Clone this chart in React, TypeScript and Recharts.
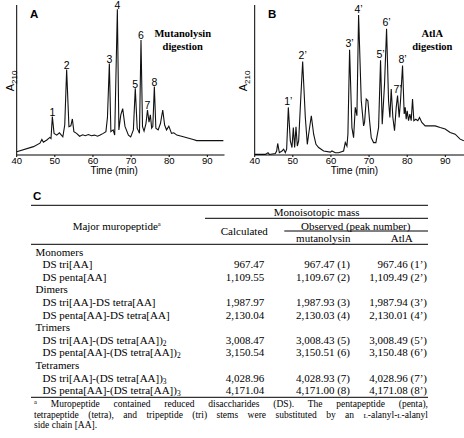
import React from 'react';
import { LineChart, Line, XAxis, YAxis, ReferenceDot } from 'recharts';

// ---------- Panel A: mutanolysin digestion chromatogram ----------
const timeA = [
  40.0, 44.4, 46.1, 46.6, 47.0, 47.9, 48.7, 49.0, 49.35, 49.8, 50.5, 51.2, 52.1, 52.6, 53.1, 53.7, 54.2, 54.6,
  55.0, 55.7, 56.5, 57.3, 58.0, 58.8, 59.6, 60.4, 61.2, 61.9, 62.7, 63.4, 63.8, 64.3, 64.7, 65.3, 65.7, 66.4,
  66.8, 67.3, 67.8, 68.4, 69.3, 69.9, 70.6, 71.1, 71.6, 72.2, 72.6, 73.0, 73.4, 73.9, 74.3, 74.7, 75.05, 75.4,
  75.7, 76.1, 76.5, 77.1, 77.7, 78.3, 78.8, 79.3, 79.9, 80.6, 81.2, 82.0, 83.7, 86.3, 87.2, 89.8, 94.2,
];
const signalA = [
  0.11, 0.29, 0.41, 0.54, 0.44, 0.52, 0.61, 0.57, 1.33, 0.75, 0.69, 0.77, 0.63, 1.04, 2.96, 0.98, 1.01, 1.25,
  0.81, 0.75, 0.65, 0.7, 0.67, 0.71, 0.67, 0.69, 0.65, 0.69, 0.75, 0.81, 1.3, 3.17, 0.81, 0.87, 0.69, 5.05,
  0.87, 1.39, 1.61, 0.99, 0.69, 0.63, 0.87, 2.31, 0.93, 0.75, 3.99, 0.98, 0.83, 1.09, 1.56, 1.14, 1.39, 0.93,
  0.99, 2.37, 0.93, 0.87, 1.09, 1.56, 1.04, 0.87, 1.0, 0.75, 0.77, 0.69, 0.63, 0.54, 0.5, 0.5, 0.5,
];
const peakNamesA = ['1', '2', '3', '4', '5', '6', '7', '8'];
const peakTimesA = [49.35, 53.1, 64.3, 66.4, 71.1, 72.6, 74.3, 76.1];

// ---------- Panel B: AtlA digestion chromatogram ----------
const timeB = [
  40.0, 42.79, 43.49, 43.84, 45.41, 45.76, 46.03, 46.46, 47.16, 47.6, 48.03, 48.38, 48.82, 49.34, 49.78, 50.13,
  50.48, 50.83, 51.18, 51.53, 52.05, 52.58, 53.28, 53.8, 54.15, 54.85, 55.46, 56.07, 56.77, 58.08, 59.83, 60.26,
  61.14, 62.01, 63.32, 63.76, 64.19, 64.45, 64.89, 65.5, 65.94, 66.38, 66.81, 67.25, 67.95, 68.56, 68.82, 69.26,
  69.69, 70.13, 70.57, 71.18, 71.79, 72.49, 73.01, 73.45, 73.71, 74.06, 74.59, 75.11, 75.46, 75.81, 76.24, 76.68,
  77.12, 77.47, 77.9, 78.25, 78.78, 79.21, 79.48, 79.74, 80.0, 80.35, 80.7, 81.05, 81.4, 81.75, 82.27, 82.79,
  83.23, 83.84, 84.72, 86.03, 87.34, 88.65, 89.96, 91.27, 92.58, 93.89, 94.85,
];
const signalB = [
  0.02, 0.02, 0.08, 0.02, 0.05, 0.14, 0.4, 0.08, 0.14, 0.2, 0.08, 0.2, 1.65, 0.49, 0.26, 0.95,
  0.26, 0.98, 0.31, 0.49, 1.88, 3.24, 1.3, 0.37, 0.72, 1.36, 0.72, 0.37, 0.26, 0.14, 0.1, 0.14,
  0.08, 0.08, 0.14, 0.43, 0.31, 0.72, 3.65, 0.95, 0.6, 1.65, 1.36, 4.85, 1.88, 1.01, 1.13, 1.94,
  1.88, 1.19, 0.6, 0.43, 0.43, 0.95, 3.28, 1.07, 1.65, 2.47, 4.38, 1.88, 1.3, 2.29, 1.3, 0.84,
  1.65, 2.06, 1.3, 1.88, 3.1, 1.42, 1.65, 1.24, 1.53, 1.19, 1.42, 1.19, 1.94, 1.19, 1.24, 1.19,
  1.3, 1.13, 1.01, 1.01, 1.01, 0.95, 0.9, 0.78, 0.72, 0.55, 0.49,
];
const peakNamesB = ['1’', '2’', '3’', '4’', '5’', '6’', '7’', '8’'];
const peakTimesB = [48.82, 52.58, 64.89, 67.25, 73.01, 74.59, 77.47, 78.78];

const timeTicks = [40, 50, 60, 70, 80, 90];
const absTicksB = [0, 1, 2, 3, 4, 5];

// ---------- Panel C: table ----------
const groupNames = ['Monomers', 'Dimers', 'Trimers', 'Tetramers'];
const muropeptides = [
  'DS tri[AA]', 'DS penta[AA]',
  'DS tri[AA]-DS tetra[AA]', 'DS penta[AA]-DS tetra[AA]',
  'DS tri[AA]-(DS tetra[AA])', 'DS penta[AA]-(DS tetra[AA])',
  'DS tri[AA]-(DS tetra[AA])', 'DS penta[AA]-(DS tetra[AA])',
];
const muropeptideSubs = ['', '', '', '', '2', '2', '3', '3'];
const calculatedMass = ['967.47', '1,109.55', '1,987.97', '2,130.04', '3,008.47', '3,150.54', '4,028.96', '4,171.04'];
const observedMutanolysin = ['967.47 (1)', '1,109.67 (2)', '1,987.93 (3)', '2,130.03 (4)', '3,008.43 (5)', '3,150.51 (6)', '4,028.93 (7)', '4,171.00 (8)'];
const observedAtlA = ['967.46 (1’)', '1,109.49 (2’)', '1,987.94 (3’)', '2,130.01 (4’)', '3,008.49 (5’)', '3,150.48 (6’)', '4,028.96 (7’)', '4,171.08 (8’)'];

const SANS = '"Liberation Sans", Arial, sans-serif';
const SERIF = '"Liberation Serif", "Times New Roman", serif';

const dataA = timeA.map((t, i) => ({ t, v: signalA[i] }));
const dataB = timeB.map((t, i) => ({ t, v: signalB[i] }));

const valueAt = (data: { t: number; v: number }[], t: number) => {
  const p = data.find((d) => d.t === t);
  return p ? p.v : 0;
};

const absLabel = (shiftX: number) => (props: any) => {
  const vb = props.viewBox || { x: 0, y: 0, width: 0, height: 0 };
  const cx = vb.x + shiftX;
  const cy = vb.y + vb.height / 2 + 1;
  return (
    <text x={cx} y={cy} transform={`rotate(-90 ${cx} ${cy})`} textAnchor="middle" fontFamily={SANS} fontSize={11} fill="#000">
      A<tspan fontSize={8} dy={3}>210</tspan>
    </text>
  );
};

const timeLabel = (dx: number) => (props: any) => {
  const vb = props.viewBox || { x: 0, y: 0, width: 0, height: 0 };
  return (
    <text x={vb.x + vb.width / 2 + dx} y={vb.y + 18.5} textAnchor="middle" fontFamily={SANS} fontSize={10} fill="#000">
      Time (min)
    </text>
  );
};

const axisLine = { stroke: '#000', strokeWidth: 1 };
const tickStyle = { fontSize: 9.5, fill: '#000', fontFamily: SANS };

function Chromatogram(props: {
  data: { t: number; v: number }[];
  names: string[];
  times: number[];
  left: number;
  yWidth: number;
  rightMargin: number;
  xMax: number;
  yTicks?: number[];
  absShift: number;
  timeDx: number;
  labelOffset: number;
}) {
  const { data, names, times } = props;
  return (
    <div style={{ position: 'absolute', left: props.left, top: 0 }}>
      <LineChart width={232} height={178} data={data} margin={{ top: 5, right: props.rightMargin, left: 0, bottom: 0 }}>
        <XAxis
          dataKey="t"
          type="number"
          domain={[40, props.xMax]}
          ticks={timeTicks}
          allowDataOverflow
          height={23}
          tickSize={2}
          tickMargin={0}
          axisLine={axisLine}
          tickLine={{ stroke: '#000' }}
          tick={tickStyle}
          label={timeLabel(props.timeDx)}
        />
        <YAxis
          type="number"
          domain={[0, 5.2]}
          allowDataOverflow
          width={props.yWidth}
          ticks={props.yTicks || []}
          tick={false}
          tickSize={3}
          tickLine={props.yTicks ? { stroke: '#000' } : false}
          axisLine={axisLine}
          label={absLabel(props.absShift)}
        />
        <Line type="linear" dataKey="v" stroke="#111" strokeWidth={1.1} dot={false} isAnimationActive={false} />
        {names.map((n, i) => (
          <ReferenceDot
            key={n}
            x={times[i]}
            y={valueAt(data, times[i])}
            r={0}
            fill="none"
            stroke="none"
            label={{ value: n, position: 'top', offset: props.labelOffset, fontSize: 10.5, fill: '#000', fontFamily: SANS }}
          />
        ))}
      </LineChart>
    </div>
  );
}

const ROW0 = 251.7;
const ROW_STEP = 12.6;
const rowBaseline = (i: number) => ROW0 + i * ROW_STEP + 3.8;

const footLine: React.CSSProperties = {
  height: 10.5,
  lineHeight: '10.5px',
  whiteSpace: 'nowrap',
};

export default function App() {
  const rows: React.ReactNode[] = [];
  groupNames.forEach((g, gi) => {
    rows.push(
      <text key={'g' + gi} x={35.5} y={rowBaseline(gi * 3)}>{g}</text>
    );
    [0, 1].forEach((k) => {
      const idx = gi * 2 + k;
      const y = rowBaseline(gi * 3 + 1 + k);
      rows.push(
        <g key={'r' + idx}>
          <text x={42.5} y={y}>
            {muropeptides[idx]}
            {muropeptideSubs[idx] ? <tspan fontSize={7.5} dy={2}>{muropeptideSubs[idx]}</tspan> : null}
          </text>
          <text x={264.3} y={y} textAnchor="end">{calculatedMass[idx]}</text>
          <text x={350} y={y} textAnchor="end">{observedMutanolysin[idx]}</text>
          <text x={427} y={y} textAnchor="end">{observedAtlA[idx]}</text>
        </g>
      );
    });
  });

  return (
    <div style={{ position: 'absolute', left: 0, top: 0, width: 464, height: 438, background: '#fff' }}>
      <Chromatogram
        data={dataA}
        names={peakNamesA}
        times={peakTimesA}
        left={0}
        yWidth={16.7}
        rightMargin={7.5}
        xMax={94.5}
        absShift={13.5}
        timeDx={-6.5}
        labelOffset={0.8}
      />
      <Chromatogram
        data={dataB}
        names={peakNamesB}
        times={peakTimesB}
        left={232}
        yWidth={22.7}
        rightMargin={0}
        xMax={94.9}
        yTicks={absTicksB}
        absShift={14.5}
        timeDx={-5}
        labelOffset={2.5}
      />
      <svg width={464} height={438} style={{ position: 'absolute', left: 0, top: 0, pointerEvents: 'none' }}>
        <text x={30} y={18.3} fontFamily={SANS} fontWeight="bold" fontSize={11.5} fill="#000">A</text>
        <text x={268} y={18.3} fontFamily={SANS} fontWeight="bold" fontSize={11.5} fill="#000">B</text>
        <g fontFamily={SERIF} fontWeight="bold" fontSize={10.5} fill="#000" textAnchor="middle">
          <text x={182.7} y={37}>Mutanolysin</text>
          <text x={182.7} y={49.5}>digestion</text>
          <text x={432.3} y={37}>AtlA</text>
          <text x={432.3} y={49.5}>digestion</text>
        </g>
        <text x={33} y={199.5} fontFamily={SANS} fontWeight="bold" fontSize={11.5} fill="#000">C</text>
        <g stroke="#000" strokeWidth={1}>
          <line x1={31} x2={428} y1={205.3} y2={205.3} />
          <line x1={205} x2={428} y1={218.3} y2={218.3} />
          <line x1={284.3} x2={428} y1={231} y2={231} />
          <line x1={31} x2={428} y1={244.3} y2={244.3} />
          <line x1={31} x2={428} y1={397.3} y2={397.3} />
        </g>
        <g fontFamily={SERIF} fontSize={11} fill="#000">
          <text x={316.7} y={215.5} textAnchor="middle">Monoisotopic mass</text>
          <text x={116.7} y={229.5} textAnchor="middle">
            Major muropeptide<tspan fontSize={6.5} dy={-4}>a</tspan>
          </text>
          <text x={244.3} y={234.5} textAnchor="middle">Calculated</text>
          <text x={355.7} y={229.5} textAnchor="middle">Observed (peak number)</text>
          <text x={323.3} y={241.5} textAnchor="middle">mutanolysin</text>
          <text x={401.7} y={241.5} textAnchor="middle">AtlA</text>
          {rows}
        </g>
      </svg>
      <div
        style={{
          position: 'absolute',
          left: 34,
          top: 399,
          width: 394,
          fontFamily: SERIF,
          fontSize: 9.5,
          color: '#000',
        }}
      >
        <div style={{ ...footLine, textAlign: 'justify', textAlignLast: 'justify' }}>
          <span style={{ fontSize: 6.5, position: 'relative', top: -3 }}>a</span> Muropeptide contained reduced disaccharides (DS). The pentapeptide (penta),
        </div>
        <div style={{ ...footLine, textAlign: 'justify', textAlignLast: 'justify' }}>
          tetrapeptide (tetra), and tripeptide (tri) stems were substituted by an <span style={{ fontSize: 7 }}>L</span>-alanyl-<span style={{ fontSize: 7 }}>L</span>-alanyl
        </div>
        <div style={footLine}>side chain [AA].</div>
      </div>
    </div>
  );
}
